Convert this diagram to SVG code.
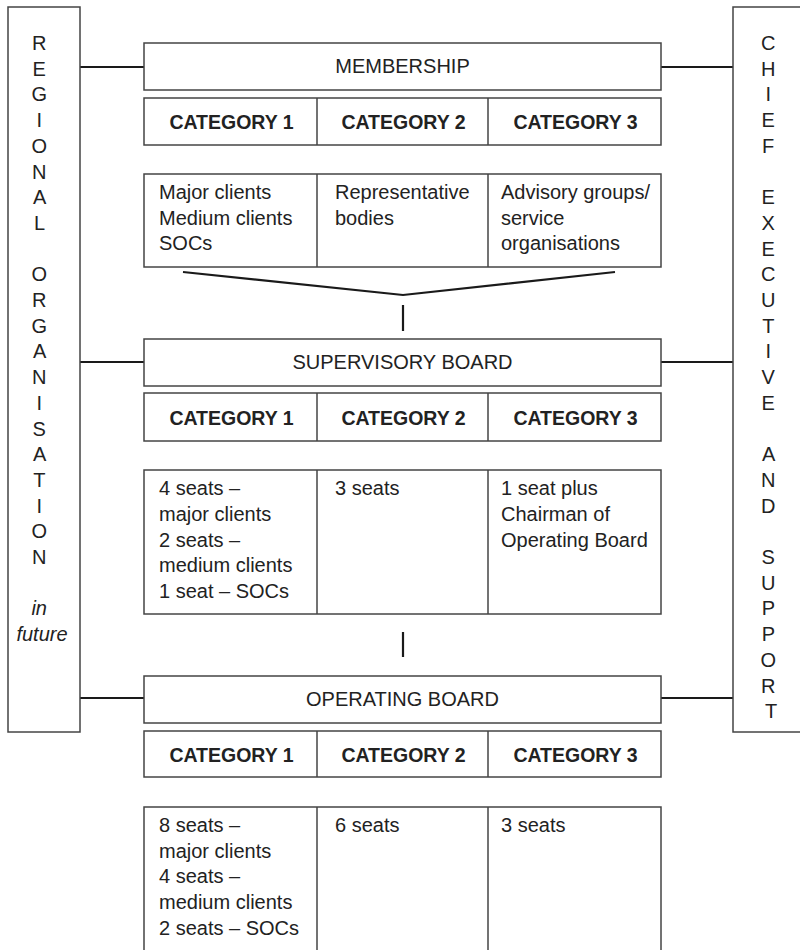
<svg xmlns="http://www.w3.org/2000/svg" width="800" height="950" viewBox="0 0 800 950">
<style>
  .box { fill: #fff; stroke: #444; stroke-width: 1.5; }
  .div { stroke: #444; stroke-width: 1.5; }
  .conn { stroke: #1a1a1a; stroke-width: 2.2; fill: none; }
  .t { font-family: "Liberation Sans", Arial, sans-serif; font-size: 20px; fill: #222; }
  .title { text-anchor: middle; }
  .cat { font-family: "Liberation Sans", Arial, sans-serif; font-size: 19.5px; font-weight: bold; fill: #222; text-anchor: middle; }
  .side { font-family: "Liberation Sans", Arial, sans-serif; font-size: 20px; fill: #222; text-anchor: middle; }
</style>
<rect width="800" height="950" fill="#fff"/>

<g id="connectors">
  <line class="conn" x1="80" y1="67" x2="144" y2="67"/>
  <line class="conn" x1="661" y1="67" x2="733" y2="67"/>
  <line class="conn" x1="80" y1="362" x2="144" y2="362"/>
  <line class="conn" x1="661" y1="362" x2="733" y2="362"/>
  <line class="conn" x1="80" y1="698" x2="144" y2="698"/>
  <line class="conn" x1="661" y1="698" x2="733" y2="698"/>
  <polyline class="conn" points="183,272 403,295 615,272"/>
  <line class="conn" x1="403" y1="305" x2="403" y2="331"/>
  <line class="conn" x1="403" y1="632" x2="403" y2="657"/>
</g>

<g id="regional">
  <rect class="box" x="8" y="7" width="72" height="725"/>
  <text class="side">
    <tspan x="42" y="50">R</tspan>
    <tspan x="42" dy="25.7">E</tspan>
    <tspan x="42" dy="25.7">G</tspan>
    <tspan x="42" dy="25.7">I</tspan>
    <tspan x="42" dy="25.7">O</tspan>
    <tspan x="42" dy="25.7">N</tspan>
    <tspan x="42" dy="25.7">A</tspan>
    <tspan x="42" dy="25.7">L</tspan>
    <tspan x="42" dy="51.4">O</tspan>
    <tspan x="42" dy="25.7">R</tspan>
    <tspan x="42" dy="25.7">G</tspan>
    <tspan x="42" dy="25.7">A</tspan>
    <tspan x="42" dy="25.7">N</tspan>
    <tspan x="42" dy="25.7">I</tspan>
    <tspan x="42" dy="25.7">S</tspan>
    <tspan x="42" dy="25.7">A</tspan>
    <tspan x="42" dy="25.7">T</tspan>
    <tspan x="42" dy="25.7">I</tspan>
    <tspan x="42" dy="25.7">O</tspan>
    <tspan x="42" dy="25.7">N</tspan>
    <tspan x="42" dy="51.4" font-style="italic">in</tspan>
    <tspan x="42" dy="25.7" font-style="italic">future</tspan>
  </text>
</g>

<g id="chief">
  <rect class="box" x="733" y="7" width="80" height="725"/>
  <text class="side">
    <tspan x="771" y="50">C</tspan>
    <tspan x="771" dy="25.7">H</tspan>
    <tspan x="771" dy="25.7">I</tspan>
    <tspan x="771" dy="25.7">E</tspan>
    <tspan x="771" dy="25.7">F</tspan>
    <tspan x="771" dy="51.4">E</tspan>
    <tspan x="771" dy="25.7">X</tspan>
    <tspan x="771" dy="25.7">E</tspan>
    <tspan x="771" dy="25.7">C</tspan>
    <tspan x="771" dy="25.7">U</tspan>
    <tspan x="771" dy="25.7">T</tspan>
    <tspan x="771" dy="25.7">I</tspan>
    <tspan x="771" dy="25.7">V</tspan>
    <tspan x="771" dy="25.7">E</tspan>
    <tspan x="771" dy="51.4">A</tspan>
    <tspan x="771" dy="25.7">N</tspan>
    <tspan x="771" dy="25.7">D</tspan>
    <tspan x="771" dy="51.4">S</tspan>
    <tspan x="771" dy="25.7">U</tspan>
    <tspan x="771" dy="25.7">P</tspan>
    <tspan x="771" dy="25.7">P</tspan>
    <tspan x="771" dy="25.7">O</tspan>
    <tspan x="771" dy="25.7">R</tspan>
    <tspan x="771" dy="25.7">T</tspan>
  </text>
</g>

<!-- MEMBERSHIP -->
<g id="membership">
  <rect class="box" x="144" y="43" width="517" height="47"/>
  <text class="t title" x="402.5" y="73">MEMBERSHIP</text>
</g>
<g id="membership-categories">
  <rect class="box" x="144" y="98" width="517" height="47"/>
  <line class="div" x1="317" y1="98" x2="317" y2="145"/>
  <line class="div" x1="488" y1="98" x2="488" y2="145"/>
  <text class="cat" x="231.5" y="129">CATEGORY 1</text>
  <text class="cat" x="403.5" y="129">CATEGORY 2</text>
  <text class="cat" x="575.5" y="129">CATEGORY 3</text>
</g>
<g id="membership-details">
  <rect class="box" x="144" y="174" width="517" height="93"/>
  <line class="div" x1="317" y1="174" x2="317" y2="267"/>
  <line class="div" x1="488" y1="174" x2="488" y2="267"/>
  <text class="t"><tspan x="159" y="199">Major clients</tspan><tspan x="159" y="225">Medium clients</tspan><tspan x="159" y="250">SOCs</tspan></text>
  <text class="t"><tspan x="335" y="199">Representative</tspan><tspan x="335" y="225">bodies</tspan></text>
  <text class="t"><tspan x="501" y="199">Advisory groups/</tspan><tspan x="501" y="225">service</tspan><tspan x="501" y="250">organisations</tspan></text>
</g>

<!-- SUPERVISORY BOARD -->
<g id="supervisory">
  <rect class="box" x="144" y="339" width="517" height="47"/>
  <text class="t title" x="402.5" y="369">SUPERVISORY BOARD</text>
</g>
<g id="supervisory-categories">
  <rect class="box" x="144" y="393" width="517" height="48"/>
  <line class="div" x1="317" y1="393" x2="317" y2="441"/>
  <line class="div" x1="488" y1="393" x2="488" y2="441"/>
  <text class="cat" x="231.5" y="425">CATEGORY 1</text>
  <text class="cat" x="403.5" y="425">CATEGORY 2</text>
  <text class="cat" x="575.5" y="425">CATEGORY 3</text>
</g>
<g id="supervisory-details">
  <rect class="box" x="144" y="470" width="517" height="144"/>
  <line class="div" x1="317" y1="470" x2="317" y2="614"/>
  <line class="div" x1="488" y1="470" x2="488" y2="614"/>
  <text class="t"><tspan x="159" y="495">4 seats –</tspan><tspan x="159" y="521">major clients</tspan><tspan x="159" y="547">2 seats –</tspan><tspan x="159" y="572">medium clients</tspan><tspan x="159" y="598">1 seat – SOCs</tspan></text>
  <text class="t"><tspan x="335" y="495">3 seats</tspan></text>
  <text class="t"><tspan x="501" y="495">1 seat plus</tspan><tspan x="501" y="521">Chairman of</tspan><tspan x="501" y="547">Operating Board</tspan></text>
</g>

<!-- OPERATING BOARD -->
<g id="operating">
  <rect class="box" x="144" y="676" width="517" height="47"/>
  <text class="t title" x="402.5" y="706">OPERATING BOARD</text>
</g>
<g id="operating-categories">
  <rect class="box" x="144" y="731" width="517" height="46"/>
  <line class="div" x1="317" y1="731" x2="317" y2="777"/>
  <line class="div" x1="488" y1="731" x2="488" y2="777"/>
  <text class="cat" x="231.5" y="762">CATEGORY 1</text>
  <text class="cat" x="403.5" y="762">CATEGORY 2</text>
  <text class="cat" x="575.5" y="762">CATEGORY 3</text>
</g>
<g id="operating-details">
  <rect class="box" x="144" y="807" width="517" height="160"/>
  <line class="div" x1="317" y1="807" x2="317" y2="967"/>
  <line class="div" x1="488" y1="807" x2="488" y2="967"/>
  <text class="t"><tspan x="159" y="832">8 seats –</tspan><tspan x="159" y="858">major clients</tspan><tspan x="159" y="883">4 seats –</tspan><tspan x="159" y="909">medium clients</tspan><tspan x="159" y="935">2 seats – SOCs</tspan></text>
  <text class="t"><tspan x="335" y="832">6 seats</tspan></text>
  <text class="t"><tspan x="501" y="832">3 seats</tspan></text>
</g>
</svg>
